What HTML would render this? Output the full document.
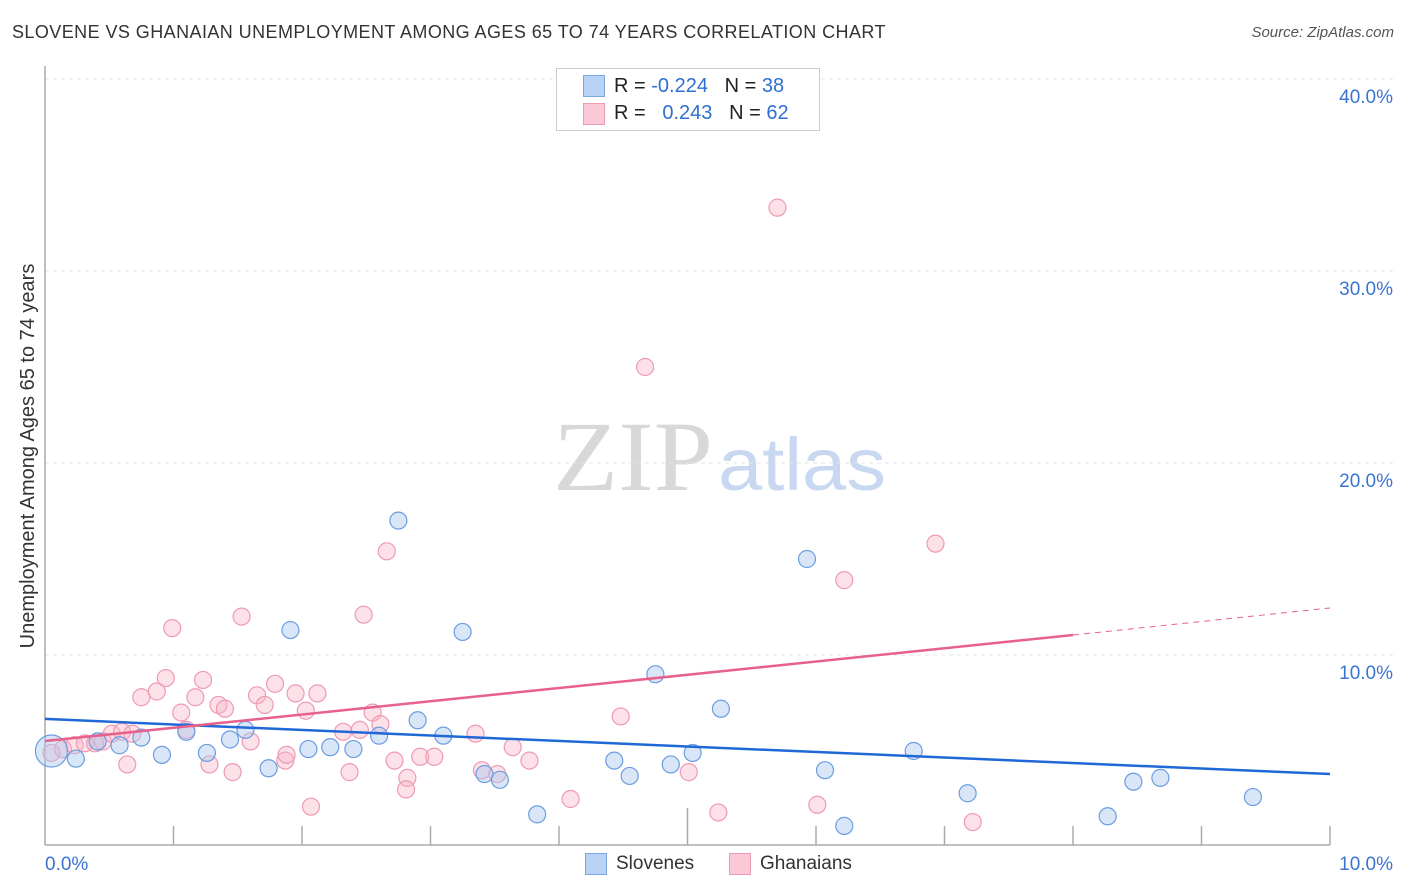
<!DOCTYPE html>
<html><head><meta charset="utf-8"><style>
body{margin:0;background:#fff;font-family:"Liberation Sans",sans-serif;}
#wrap{position:relative;width:1406px;height:892px;overflow:hidden;}
.t{position:absolute;white-space:nowrap;}
</style></head><body>
<div id="wrap">
<div class="t" style="left:12px;top:22px;font-size:18px;letter-spacing:0.43px;color:#333;">SLOVENE VS GHANAIAN UNEMPLOYMENT AMONG AGES 65 TO 74 YEARS CORRELATION CHART</div>
<div class="t" style="right:12px;top:24px;font-size:15px;color:#555;font-style:italic;">Source: ZipAtlas.com</div>
<svg id="svg" width="1406" height="892" style="position:absolute;left:0;top:0"></svg>
</div>
<script>
const xTicks=[0,10];
const yTicks=[10,20,30,40];
const slovX=[0.05,0.24,0.41,0.58,0.75,0.91,1.10,1.26,1.44,1.56,1.74,1.91,2.05,2.22,2.40,2.60,2.75,2.90,3.10,3.25,3.42,3.54,3.83,4.43,4.55,4.75,4.87,5.04,5.26,5.93,6.07,6.22,6.76,7.18,8.27,8.47,8.68,9.40];
const slovY=[5.0,4.6,5.5,5.3,5.7,4.8,6.0,4.9,5.6,6.1,4.1,11.3,5.1,5.2,5.1,5.8,17.0,6.6,5.8,11.2,3.8,3.5,1.7,4.5,3.7,9.0,4.3,4.9,7.2,15.0,4.0,1.1,5.0,2.8,1.6,3.4,3.6,2.6];
const ghX=[0.05,0.14,0.23,0.31,0.39,0.45,0.52,0.60,0.68,0.75,0.87,0.94,0.99,0.64,1.06,1.10,1.17,1.23,1.28,1.35,1.40,1.46,1.53,1.60,1.65,1.71,1.79,1.87,1.88,1.95,2.03,2.07,2.12,2.32,2.37,2.45,2.48,2.55,2.61,2.66,2.72,2.82,2.92,3.03,2.81,3.35,3.40,3.52,3.64,3.77,4.09,4.48,4.67,5.01,5.24,5.70,6.01,6.22,6.93,7.22];
const ghY=[4.9,5.1,5.3,5.4,5.4,5.5,5.9,6.0,5.9,7.8,8.1,8.8,11.4,4.3,7.0,6.1,7.8,8.7,4.3,7.4,7.2,3.9,12.0,5.5,7.9,7.4,8.5,4.5,4.8,8.0,7.1,2.1,8.0,6.0,3.9,6.1,12.1,7.0,6.4,15.4,4.5,3.6,4.7,4.7,3.0,5.9,4.0,3.8,5.2,4.5,2.5,6.8,25.0,3.9,1.8,33.3,2.2,13.9,15.8,1.3];
const blueTrendX=[0,10], blueTrendY=[6.67,3.80];
const pinkTrendX=[0,8,10], pinkTrendY=[5.52,11.04,12.45];
const X0=45,X1=1330,Y0=847,PY=19.2;
const sx=v=>X0+(v/10)*(X1-X0), sy=v=>Y0-v*PY;
const svg=document.getElementById('svg');const NS='http://www.w3.org/2000/svg';
function mk(tag,attrs,parent){const e=document.createElementNS(NS,tag);for(const k in attrs)e.setAttribute(k,attrs[k]);(parent||svg).appendChild(e);return e;}
let wm=mk('text',{x:553,y:490,'font-size':100,fill:'#d8d8d8','font-family':'Liberation Serif, serif',textLength:160,lengthAdjust:'spacingAndGlyphs'});wm.textContent='ZIP';


let wm2=mk('text',{x:718,y:490,'font-size':74,fill:'#c8d8f0','font-family':'Liberation Sans, sans-serif',textLength:168,lengthAdjust:'spacingAndGlyphs'});wm2.textContent='atlas';


yTicks.forEach(v=>{const g=mk('line',{x1:X0,x2:1395,y1:sy(v),y2:sy(v),stroke:'#e4e4e4','stroke-dasharray':'4,4'});


const t=mk('text',{x:1393,y:sy(v)+24,'text-anchor':'end','font-size':19,fill:'#3b74d0','font-family':'Liberation Sans, sans-serif'});t.textContent=v.toFixed(1)+'%';

});
let ax=mk('line',{x1:X0,x2:X0,y1:66,y2:845,stroke:'#aaa','stroke-width':1.5});


let bx=mk('line',{x1:X0,x2:X1,y1:845,y2:845,stroke:'#aaa','stroke-width':1.5});


for(let i=1;i<=10;i++){const x=sx(i);const tk=mk('line',{x1:x,x2:x,y1:i==5?808:826,y2:845,stroke:'#aaa','stroke-width':1.5});

}
xTicks.forEach(v=>{const t=mk('text',{x:v==0?45:1393,y:870,'text-anchor':v==0?'start':'end','font-size':19,fill:'#3b74d0','font-family':'Liberation Sans, sans-serif'});t.textContent=v.toFixed(1)+'%';

});
let yt=mk('text',{x:0,y:0,transform:'translate(34,456) rotate(-90)','text-anchor':'middle','font-size':20,fill:'#333','font-family':'Liberation Sans, sans-serif'});yt.textContent='Unemployment Among Ages 65 to 74 years';


ghX.forEach((v,i)=>{const c=mk('circle',{cx:sx(v),cy:sy(ghY[i]),r:8.5,fill:'rgba(248,180,200,0.4)',stroke:'#ee9ab3','stroke-width':1.2});

});
slovX.forEach((v,i)=>{const c=mk('circle',{cx:sx(v),cy:sy(slovY[i]),r:i==0?16:8.5,fill:'rgba(170,200,240,0.45)',stroke:'#6b9de0','stroke-width':1.2});

});
let bl=mk('line',{x1:sx(blueTrendX[0]),y1:sy(blueTrendY[0]),x2:sx(blueTrendX[1]),y2:sy(blueTrendY[1]),stroke:'#1f68d6','stroke-width':2.5});


let pl=mk('line',{x1:sx(pinkTrendX[0]),y1:sy(pinkTrendY[0]),x2:sx(pinkTrendX[1]),y2:sy(pinkTrendY[1]),stroke:'#e8608c','stroke-width':2.5});


let pd=mk('line',{x1:sx(pinkTrendX[1]),y1:sy(pinkTrendY[1]),x2:sx(pinkTrendX[2]),y2:sy(pinkTrendY[2]),stroke:'#e8608c','stroke-width':1,'stroke-dasharray':'6,5'});


</script>
<div class="t" style="left:556px;top:68px;width:262px;height:61px;border:1px solid #ccc;background:#fff;">
 <div class="t" style="left:26px;top:6px;width:20px;height:20px;background:#b9d3f5;border:1px solid #7ca6e2;"></div>
 <div class="t" style="left:57px;top:6px;font-size:20px;color:#222;">R = <span style="color:#2e6fd0">-0.224</span>&nbsp;&nbsp;&nbsp;N = <span style="color:#2e6fd0">38</span></div>
 <div class="t" style="left:26px;top:34px;width:20px;height:20px;background:#fac8d6;border:1px solid #ee9ab3;"></div>
 <div class="t" style="left:57px;top:33px;font-size:20px;color:#222;">R = &nbsp;&nbsp;<span style="color:#2e6fd0">0.243</span>&nbsp;&nbsp;&nbsp;N = <span style="color:#2e6fd0">62</span></div>
</div>
<div class="t" style="left:585px;top:853px;width:20px;height:20px;background:#b9d3f5;border:1px solid #7ca6e2;"></div>
<div class="t" style="left:616px;top:853px;font-size:19px;color:#333;">Slovenes</div>
<div class="t" style="left:729px;top:853px;width:20px;height:20px;background:#fac8d6;border:1px solid #ee9ab3;"></div>
<div class="t" style="left:760px;top:853px;font-size:19px;color:#333;">Ghanaians</div>
</body></html>
